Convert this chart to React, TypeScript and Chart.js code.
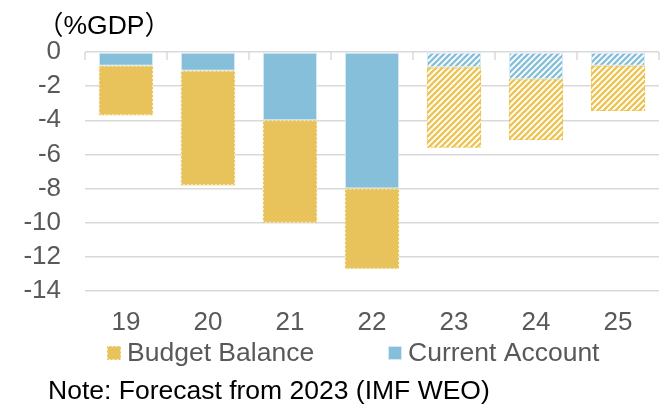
import React, { useEffect, useRef } from 'react';
import { Chart, registerables } from 'chart.js';

Chart.register(...registerables);

// Fiscal year labels (20xx) and the years that are IMF forecasts
const years = ['19', '20', '21', '22', '23', '24', '25'];
const forecastYears = ['23', '24', '25'];

// % of GDP, stacked downward from zero
const currentAccount = [-0.8, -1.1, -4.0, -8.0, -0.9, -1.6, -0.8];
const budgetBalance = [-2.9, -6.7, -6.0, -4.7, -4.7, -3.55, -2.65];

const yTicks = [0, -2, -4, -6, -8, -10, -12, -14];

const unitLabel = '（%GDP）';
const noteText = 'Note: Forecast from 2023 (IMF WEO)';
const budgetLabel = 'Budget Balance';
const accountLabel = 'Current Account';

const FONT = "'Liberation Sans', Arial, 'Noto Sans CJK JP', sans-serif";
const YELLOW = '#E8C35C';
const YELLOW_EDGE = '#FBEFC8';
const YELLOW_DOT = '#EDC453';
const BLUE = '#86BFDA';
const BLUE_EDGE = '#D3EAF4';
const GRID = '#D9D9D9';
const TEXT = '#595959';

const isForecast = (i: number) => forecastYears.includes(years[i]);

function makeStripes(ctx: CanvasRenderingContext2D, color: string) {
  const c = document.createElement('canvas');
  c.width = 6;
  c.height = 6;
  const g = c.getContext('2d')!;
  g.fillStyle = '#ffffff';
  g.fillRect(0, 0, 6, 6);
  g.strokeStyle = color;
  g.lineWidth = 2.3;
  g.beginPath();
  g.moveTo(-1, 7);
  g.lineTo(7, -1);
  g.moveTo(-4, 4);
  g.lineTo(4, -4);
  g.moveTo(2, 10);
  g.lineTo(10, 2);
  g.stroke();
  return ctx.createPattern(c, 'repeat')!;
}

const decorations = {
  id: 'decorations',
  beforeDatasetsDraw(chart: any) {
    const { ctx, scales } = chart;
    const x = scales.x;
    const y0 = scales.y.getPixelForValue(0);
    const step = x.width / years.length;
    ctx.save();
    ctx.strokeStyle = GRID;
    ctx.lineWidth = 1.5;
    ctx.beginPath();
    for (let i = 0; i <= years.length; i++) {
      const px = Math.round(x.left + i * step);
      ctx.moveTo(px, y0);
      ctx.lineTo(px, y0 + 8);
    }
    ctx.stroke();
    ctx.restore();
  },
  afterDatasetsDraw(chart: any) {
    const { ctx } = chart;
    const meta = chart.getDatasetMeta(1);
    ctx.save();
    ctx.lineWidth = 1;
    ctx.setLineDash([2, 2]);
    meta.data.forEach((bar: any, i: number) => {
      const p = bar.getProps(['x', 'y', 'base', 'width'], true);
      const left = p.x - p.width / 2;
      const top = Math.min(p.y, p.base);
      const bottom = Math.max(p.y, p.base);
      ctx.strokeStyle = isForecast(i) ? YELLOW_DOT : YELLOW_EDGE;
      ctx.strokeRect(left + 0.5, top + 0.5, p.width - 1, bottom - top - 1);
    });
    ctx.restore();
  },
  afterDraw(chart: any) {
    const { ctx } = chart;
    ctx.save();
    ctx.font = `26.5px ${FONT}`;
    ctx.textBaseline = 'alphabetic';
    ctx.textAlign = 'left';

    ctx.fillStyle = '#000000';
    ctx.fillText(unitLabel, 37, 34);

    // legend
    ctx.fillStyle = YELLOW;
    ctx.fillRect(107, 346, 14, 14);
    ctx.setLineDash([2, 2]);
    ctx.strokeStyle = YELLOW_EDGE;
    ctx.lineWidth = 1;
    ctx.strokeRect(107.5, 346.5, 13, 13);
    ctx.setLineDash([]);
    ctx.fillStyle = BLUE;
    ctx.fillRect(388, 346, 14, 14);
    ctx.strokeStyle = BLUE_EDGE;
    ctx.strokeRect(388.5, 346.5, 13, 13);
    ctx.fillStyle = TEXT;
    ctx.fillText(budgetLabel, 127, 361);
    ctx.fillText(accountLabel, 408, 361);

    ctx.fillStyle = '#000000';
    ctx.fillText(noteText, 48, 399);
    ctx.restore();
  },
};

export default function App() {
  const canvasRef = useRef<HTMLCanvasElement | null>(null);

  useEffect(() => {
    const canvas = canvasRef.current!;
    const ctx = canvas.getContext('2d')!;
    const yellowStripes = makeStripes(ctx, YELLOW_DOT);
    const blueStripes = makeStripes(ctx, BLUE);

    Chart.defaults.font.family = FONT;

    const chart = new Chart(ctx, {
      type: 'bar',
      data: {
        labels: years,
        datasets: [
          {
            label: accountLabel,
            data: currentAccount,
            backgroundColor: (c: any) => (isForecast(c.dataIndex) ? blueStripes : BLUE),
            borderColor: BLUE_EDGE,
            borderWidth: 1,
            borderSkipped: false,
          },
          {
            label: budgetLabel,
            data: budgetBalance,
            backgroundColor: (c: any) => (isForecast(c.dataIndex) ? yellowStripes : YELLOW),
            borderWidth: 0,
          },
        ],
      },
      options: {
        animation: false,
        responsive: false,
        maintainAspectRatio: false,
        datasets: {
          bar: { barPercentage: 0.66, categoryPercentage: 1 },
        },
        layout: { padding: { left: 0, right: 2, top: 52, bottom: 0 } },
        plugins: {
          legend: { display: false },
          title: { display: false },
          tooltip: { enabled: false },
        },
        scales: {
          x: {
            stacked: true,
            grid: { display: false, drawTicks: false },
            border: { display: false },
            ticks: { color: TEXT, font: { size: 26 }, padding: 16, autoSkip: false, maxRotation: 0 },
            afterFit: (s: any) => {
              s.height = 115;
            },
          },
          y: {
            stacked: true,
            min: -14,
            max: 0,
            afterBuildTicks: (s: any) => {
              s.ticks = yTicks.map((v) => ({ value: v }));
            },
            grid: { color: GRID, lineWidth: 1.5, drawTicks: false },
            border: { display: false },
            ticks: {
              color: TEXT,
              font: { size: 26 },
              padding: 24,
              autoSkip: false,
              callback: (v: any) => String(v),
            },
            afterFit: (s: any) => {
              s.width = 85;
            },
          },
        },
      },
      plugins: [decorations],
    });
    return () => chart.destroy();
  }, []);

  return (
    <div style={{ position: 'absolute', left: 0, top: 0, width: 661, height: 406, background: '#fff' }}>
      <canvas ref={canvasRef} width={661} height={406} style={{ display: 'block' }} />
    </div>
  );
}
